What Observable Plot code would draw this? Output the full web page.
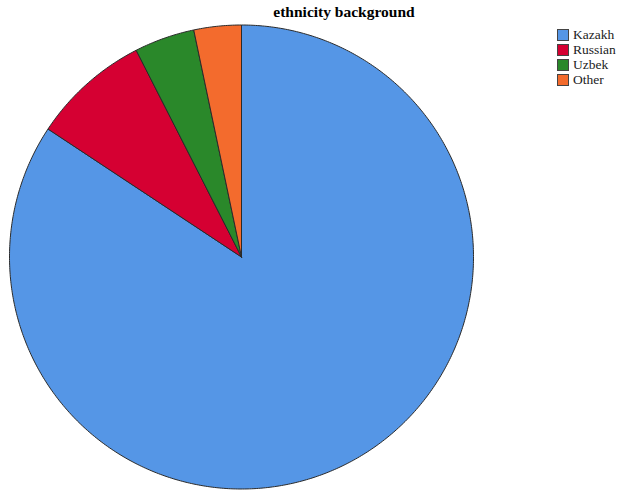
<!DOCTYPE html>
<html>
<head>
<meta charset="utf-8">
<script src="https://cdn.jsdelivr.net/npm/d3@7"></script>
<script src="https://cdn.jsdelivr.net/npm/@observablehq/plot@0.6"></script>
<style>
  body { margin: 0; background: #fff; }
  #wrap { position: relative; width: 617px; height: 490px; }
  #title { position: absolute; left: 224px; width: 240px; top: 3px; text-align: center;
    font-family: "Liberation Serif", "Times New Roman", serif; font-weight: bold; font-size: 15.5px; color: #000; }
  #legend { position: absolute; left: 557px; top: 27px; font-family: "Liberation Serif", "Times New Roman", serif; font-size: 13.5px; color: #222; }
  .row { display: flex; align-items: center; height: 15px; white-space: nowrap; }
  .sw { width: 10px; height: 10px; border: 1px solid #444; margin-right: 4px; flex: none; }
</style>
</head>
<body>
<div id="wrap">
  <div id="chart"></div>
  <div id="title">ethnicity background</div>
  <div id="legend"></div>
</div>
<script>
const categories = ["Kazakh", "Russian", "Uzbek", "Other"];
const values = [84.3, 8.2, 4.2, 3.3];
const colors = ["#5596E6", "#D50032", "#2A882A", "#F36B2D"];

const pie = d3.pie().sort(null).value(d => d.value).startAngle(0).endAngle(2 * Math.PI);
const arcs = pie(categories.map((c, i) => ({name: c, value: values[i]})));
const pts = [];
for (const a of arcs) {
  const n = Math.max(2, Math.ceil((a.endAngle - a.startAngle) / 0.01));
  pts.push({name: a.data.name, x: 0, y: 0});
  for (let k = 0; k <= n; k++) {
    const t = a.startAngle + (a.endAngle - a.startAngle) * k / n;
    pts.push({name: a.data.name, x: Math.sin(t), y: Math.cos(t)});
  }
  pts.push({name: a.data.name, x: 0, y: 0});
}

const chart = Plot.plot({
  width: 617,
  height: 490,
  marginLeft: 9,
  marginRight: 144,
  marginTop: 24.5,
  marginBottom: 1.5,
  x: {domain: [-1, 1], axis: null},
  y: {domain: [-1, 1], axis: null},
  color: {domain: categories, range: colors},
  marks: [
    Plot.line(pts, {x: "x", y: "y", z: "name", fill: "name", stroke: "#2a2a2a", strokeWidth: 1, strokeLinejoin: "round", curve: "linear"})
  ]
});
document.getElementById("chart").appendChild(chart);

const legend = document.getElementById("legend");
categories.forEach((c, i) => {
  const row = document.createElement("div");
  row.className = "row";
  const sw = document.createElement("div");
  sw.className = "sw";
  sw.style.background = colors[i];
  const lab = document.createElement("span");
  lab.textContent = c;
  row.appendChild(sw);
  row.appendChild(lab);
  legend.appendChild(row);
});
</script>
</body>
</html>
